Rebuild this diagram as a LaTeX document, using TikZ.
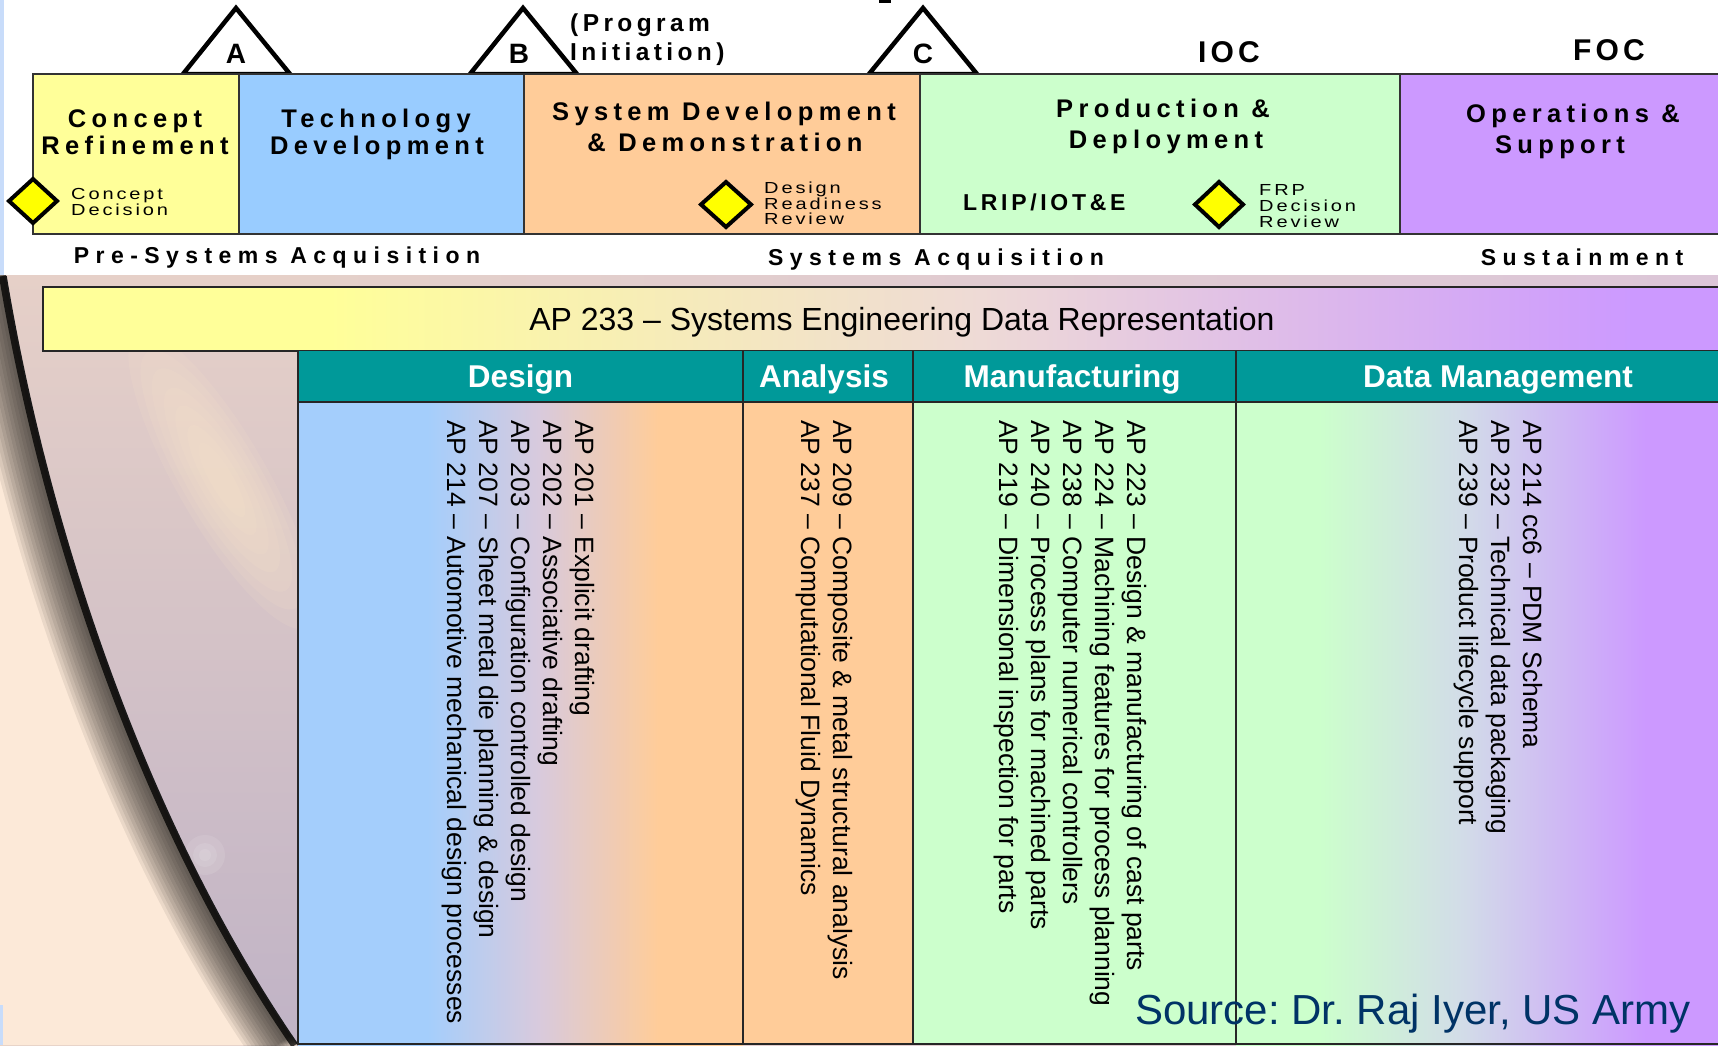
\documentclass[tikz,border=0pt]{standalone}
\usepackage{fontspec}
\setmainfont{Liberation Sans}
\newfontfamily\ttlf[LetterSpace=21]{Liberation Sans}
\newfontfamily\acqf[LetterSpace=28]{Liberation Sans}
\newfontfamily\prgf[LetterSpace=18]{Liberation Sans}
\newfontfamily\smlf[LetterSpace=18,FakeStretch=1.25]{Liberation Sans}
\newfontfamily\lripf[LetterSpace=16]{Liberation Sans}
\newfontfamily\milf[LetterSpace=14]{Liberation Sans}
\usetikzlibrary{shapes.geometric}
\frenchspacing
\definecolor{cyel}{HTML}{FFFF99}
\definecolor{cblu}{HTML}{99CCFF}
\definecolor{cpea}{HTML}{FFCC99}
\definecolor{cgrn}{HTML}{CCFFCC}
\definecolor{cvio}{HTML}{CC99FF}
\definecolor{cteal}{HTML}{009999}
\definecolor{csrc}{HTML}{003366}
\definecolor{cdia}{HTML}{FFFF00}
\definecolor{cream}{HTML}{FCE9D8}
\definecolor{lavtop}{HTML}{E6D0C8}
\definecolor{lavbot}{HTML}{C0B3C6}
\definecolor{bandL}{HTML}{E6D2C6}
\definecolor{bandR}{HTML}{DCC6D8}
\definecolor{lblue}{HTML}{C8DCFA}
\definecolor{barmid}{HTML}{EEDAD6}
\definecolor{dblue}{HTML}{A4CEFC}
\definecolor{dmid}{HTML}{D8CADD}
\definecolor{dmmid}{HTML}{D2DCE8}
\definecolor{hilite}{HTML}{FCE8CC}
\pgfdeclarehorizontalshading{barsh}{100bp}{color(0bp)=(cyel); color(33.5bp)=(cyel); color(53bp)=(barmid); color(72.5bp)=(cvio); color(100bp)=(cvio)}
\pgfdeclarehorizontalshading{dessh}{100bp}{color(0bp)=(dblue); color(39.5bp)=(dblue); color(52bp)=(dmid); color(65.5bp)=(cpea); color(100bp)=(cpea)}
\pgfdeclarehorizontalshading{dmsh}{100bp}{color(0bp)=(cgrn); color(33.5bp)=(cgrn); color(48.5bp)=(dmmid); color(67.5bp)=(cvio); color(100bp)=(cvio)}
\tikzset{
  phase/.style={draw=black!80, line width=2.5},
  tri/.style={draw=black, fill=white, line width=4.5, line join=miter},
  dia/.style={draw=black, fill=cdia, line width=4, line join=miter},
  tline/.style={draw=black!85, line width=2},
  ttl/.style={font=\ttlf\bfseries\fontsize{25.5}{27}\selectfont, inner sep=0, anchor=base},
  acq/.style={font=\acqf\bfseries\fontsize{23}{25}\selectfont, inner sep=0, anchor=base},
  prg/.style={font=\prgf\bfseries\fontsize{24.5}{26}\selectfont, inner sep=0, anchor=base west},
  sml/.style={font=\smlf\fontsize{16}{16}\selectfont, inner sep=0, anchor=base west},
  lrip/.style={font=\lripf\bfseries\fontsize{23}{26}\selectfont, inner sep=0, anchor=base west},
  mil/.style={font=\milf\bfseries\fontsize{30}{32}\selectfont, inner sep=0, anchor=base},
  trilet/.style={font=\bfseries\fontsize{28}{30}\selectfont, inner sep=0, anchor=base},
  hdr/.style={font=\bfseries\fontsize{31.5}{34}\selectfont, text=white, inner sep=0, anchor=base},
  aptext/.style={font=\fontsize{26.5}{32}\selectfont, rotate=-90, inner sep=0, anchor=base west}
}
\begin{document}
\begin{tikzpicture}[x=1pt,y=-1pt]
\useasboundingbox (0,0) rectangle (1718,1045);
% top white area
\fill[white] (0,0) rectangle (1718,275);
\fill[lblue] (0,0) rectangle (4,275);
% lower background
\shade[left color=bandL, right color=bandR] (0,275) rectangle (1718,1045);
\begin{scope}
  \clip (0,275) rectangle (300,1045);
  \fill[cream] (0,275) -- (6,276) .. controls (50,540) and (150,830) .. (298,1045) -- (0,1045) -- cycle;
  \foreach \i in {1,...,14}
    \draw[black, opacity=0.07, line width=4*\i, xshift=-1.5*\i] (6,276) .. controls (50,540) and (150,830) .. (298,1045);
  \draw[black, opacity=0.75, line width=8, xshift=-3] (6,276) .. controls (50,540) and (150,830) .. (298,1045);
  \shade[top color=lavtop, bottom color=lavbot] (6,276) .. controls (50,540) and (150,830) .. (298,1045) -- (300,1045) -- (300,275) -- (6,275) -- cycle;
  \begin{scope}
    \clip (6,276) .. controls (50,540) and (150,830) .. (298,1045) -- (300,1045) -- (300,275) -- (6,275) -- cycle;
    \foreach \s in {1,0.87,0.75,0.62,0.5,0.37,0.25}
      \fill[hilite, opacity=0.12, shift={(222,480)}, rotate=-60] (0,0) ellipse [x radius=170*\s, y radius=45*\s];
    \foreach \s in {1,0.6,0.3}
      \fill[white, opacity=0.10, shift={(205,855)}] (0,0) ellipse [x radius=20*\s, y radius=20*\s];
  \end{scope}
  \draw[black!90, line width=1.5] (6,276) .. controls (50,540) and (150,830) .. (298,1045);
\end{scope}
\fill[lblue] (0,1005) rectangle (3,1045);

% AP 233 bar
\shade[shading=barsh] (43,287) rectangle (1718,351);
\draw[tline] (1720,287) -- (43,287) -- (43,351) -- (1720,351);
\node[font=\fontsize{32}{38}\selectfont, anchor=base, inner sep=0] (ap233) at (902,330) {AP 233 – Systems Engineering Data Representation};

% table
\fill[cteal] (298,351) rectangle (1718,402);
\shade[shading=dessh] (298,402) rectangle (743,1045);
\fill[cpea] (743,402) rectangle (913,1045);
\fill[cgrn] (913,402) rectangle (1236,1045);
\shade[shading=dmsh] (1236,402) rectangle (1718,1045);
\draw[tline] (298,351) -- (298,1045);
\draw[tline] (743,351) -- (743,1045);
\draw[tline] (913,351) -- (913,1045);
\draw[tline] (1236,351) -- (1236,1045);
\draw[tline] (298,402) -- (1720,402);
\draw[tline] (298,1044) -- (1720,1044);

\node[hdr] (hdes) at (520.5,387) {Design};
\node[hdr] (hana) at (824,387) {Analysis};
\node[hdr] (hman) at (1072,387) {Manufacturing};
\node[hdr] (hdm) at (1498,387) {Data Management};

% design
\node[aptext] (d1) at (575,420) {AP 201 – Explicit drafting};
\node[aptext] (d2) at (543,420) {AP 202 – Associative drafting};
\node[aptext] (d3) at (511,420) {AP 203 – Configuration controlled design};
\node[aptext] (d4) at (479,420) {AP 207 – Sheet metal die planning \& design};
\node[aptext] (d5) at (447,420) {AP 214 – Automotive mechanical design processes};
% analysis
\node[aptext] (a1) at (833,420) {AP 209 – Composite \& metal structural analysis};
\node[aptext] (a2) at (801,420) {AP 237 – Computational Fluid Dynamics};
% manufacturing
\node[aptext] (m1) at (1127,420) {AP 223 – Design \& manufacturing of cast parts};
\node[aptext] (m2) at (1095,420) {AP 224 – Machining features for process planning};
\node[aptext] (m3) at (1063,420) {AP 238 – Computer numerical controllers};
\node[aptext] (m4) at (1031,420) {AP 240 – Process plans for machined parts};
\node[aptext] (m5) at (999,420) {AP 219 – Dimensional inspection for parts};
% data management
\node[aptext] (g1) at (1523,420) {AP 214 cc6 – PDM Schema};
\node[aptext] (g2) at (1491,420) {AP 232 – Technical data packaging};
\node[aptext] (g3) at (1459,420) {AP 239 – Product lifecycle support};

\node[font=\fontsize{42}{48}\selectfont, text=csrc, anchor=base west, inner sep=0] (src) at (1135,1024) {Source: Dr. Raj Iyer, US Army};

% milestones triangles
\draw[tri] (183,74) -- (236,8) -- (290,74) -- cycle;
\draw[tri] (470,74) -- (523,8) -- (577,74) -- cycle;
\draw[tri] (869,74) -- (923,8) -- (977,74) -- cycle;
\fill[black] (879,0) rectangle (891,2.5);

% phase boxes
\draw[phase, fill=cyel] (33,74) rectangle (239,234);
\draw[phase, fill=cblu] (239,74) rectangle (524,234);
\draw[phase, fill=cpea] (524,74) rectangle (920,234);
\draw[phase, fill=cgrn] (920,74) rectangle (1400,234);
\draw[phase, fill=cvio] (1400,74) rectangle (1722,234);

\node[trilet] (mA) at (236,63) {A};
\node[trilet] (mB) at (519,63) {B};
\node[trilet] (mC) at (923,63) {C};
\node[prg] (prg1) at (570,31) {(Program};
\node[prg] (prg2) at (570,60) {Initiation)};
\node[mil] (ioc) at (1229,62) {IOC};
\node[mil] (foc) at (1609,60) {FOC};

\node[ttl] (t1a) at (135,127) {Concept};
\node[ttl] (t1b) at (135,154) {Refinement};
\node[ttl] (t2a) at (376,127) {Technology};
\node[ttl] (t2b) at (377,154) {Development};
\node[ttl] (t3a) at (724,120) {System Development};
\node[ttl] (t3b) at (725,151) {\& Demonstration};
\node[ttl] (t4a) at (1163,117) {Production \&};
\node[ttl] (t4b) at (1166,148) {Deployment};
\node[ttl] (t5a) at (1573,122) {Operations \&};
\node[ttl] (t5b) at (1560,153) {Support};

% diamonds
\draw[dia] (33,179) -- (57,201) -- (33,223) -- (9,201) -- cycle;
\draw[dia] (726,182) -- (751,204.5) -- (726,227) -- (701,204.5) -- cycle;
\draw[dia] (1219,182) -- (1243,204.5) -- (1219,227) -- (1195,204.5) -- cycle;

\node[sml] (cd1) at (71,199) {Concept};
\node[sml] (cd2) at (71,215) {Decision};
\node[sml] (dr1) at (764,193) {Design};
\node[sml] (dr2) at (764,209) {Readiness};
\node[sml] (dr3) at (764,224) {Review};
\node[sml] (fr1) at (1259,195) {FRP};
\node[sml] (fr2) at (1259,211) {Decision};
\node[sml] (fr3) at (1259,227) {Review};
\node[lrip] (lrip) at (963,210) {LRIP/IOT\&E};

\node[acq] (pre) at (277,263) {Pre-Systems Acquisition};
\node[acq] (sys) at (936,265) {Systems Acquisition};
\node[acq] (sus) at (1582,265) {Sustainment};
\end{tikzpicture}
\end{document}
